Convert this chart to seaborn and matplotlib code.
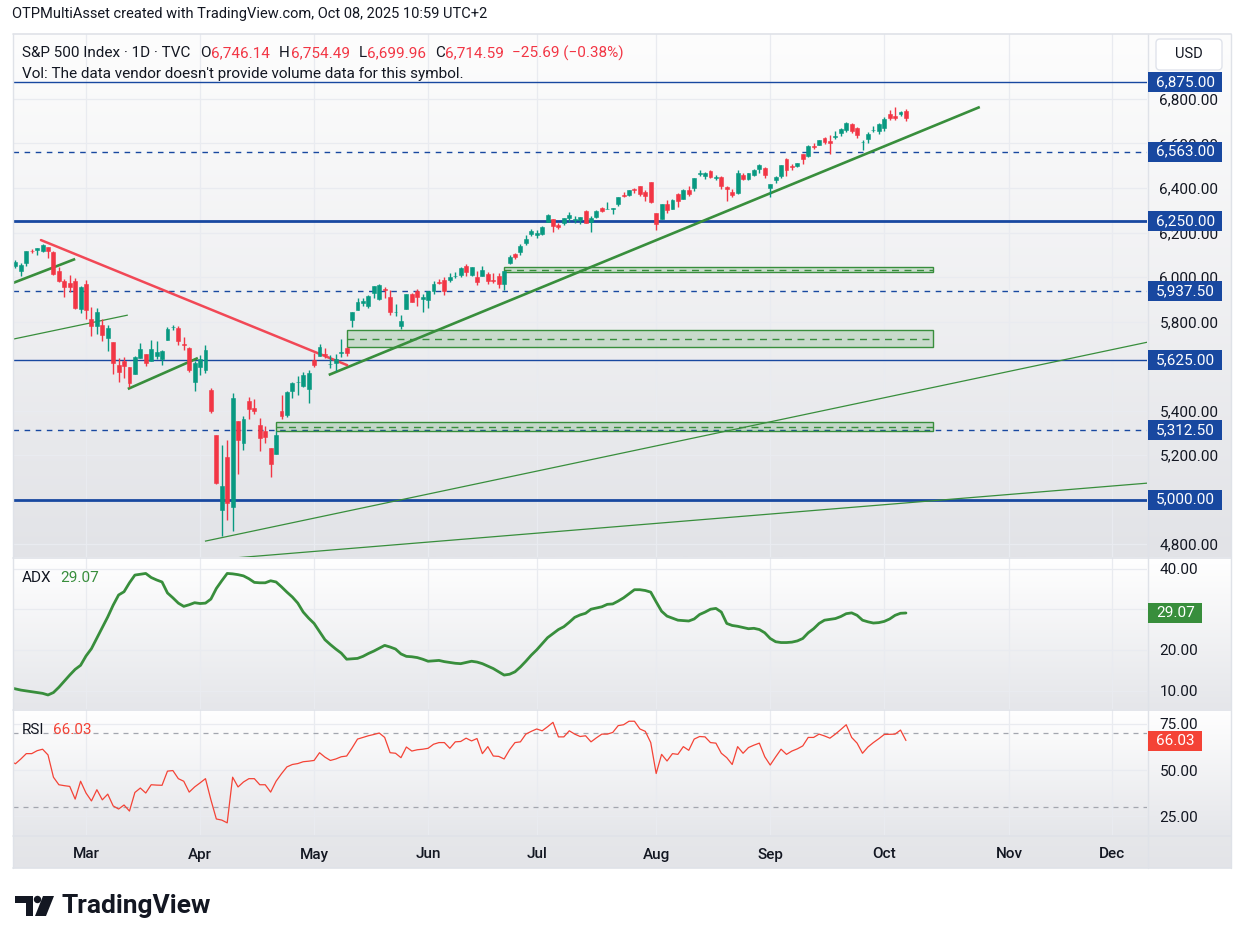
import numpy as np
import pandas as pd
import matplotlib
matplotlib.use('Agg')
import matplotlib.pyplot as plt
import matplotlib.patches as mpatches
from matplotlib.colors import LinearSegmentedColormap
from matplotlib.transforms import IdentityTransform
import seaborn as sns

sns.set_style('white')
plt.rcParams['font.family'] = ['Roboto', 'DejaVu Sans']

# ---------------- data ----------------
holidays = ['2025-02-17', '2025-04-18', '2025-05-26', '2025-06-19',
            '2025-07-04', '2025-09-01', '2025-11-27', '2025-12-25']

opens = [6046, 6049, 6025, 6061, 6116, 6121, 6118, 6134, 6114, 6027, 5983, 5971, 5981, 5857,
         5969, 5812, 5781, 5786, 5727, 5706, 5603, 5624, 5594, 5563, 5635, 5655, 5623, 5646, 5630,
         5719, 5776, 5772, 5701, 5679, 5527,
         5597, 5581, 5492, 5292, 4953, 5193, 4967, 5353, 5256, 5442, 5412, 5335, 5306, 5232, 5207,
         5396, 5381, 5489, 5529, 5509, 5499,
         5626, 5646, 5656, 5607, 5613, 5658, 5679, 5808, 5854, 5884, 5870, 5929, 5902, 5944, 5910,
         5841, 5781, 5855, 5925, 5939, 5903,
         5897, 5938, 5979, 5985, 5988, 6004, 6009, 6049, 6010, 6000, 6004, 6012, 5987, 6004, 5970,
         6061, 6105, 6112, 6151, 6194,
         6187, 6193, 6247, 6259, 6233, 6245, 6266, 6256, 6255, 6296, 6249, 6269, 6309, 6304, 6307,
         6326, 6368, 6370, 6397, 6409, 6381, 6428,
         6288, 6261, 6330, 6307, 6375, 6351, 6390, 6398, 6461, 6453, 6478, 6445, 6450, 6406, 6384,
         6378, 6458, 6441, 6457, 6485, 6491,
         6401, 6434, 6452, 6531, 6498, 6500, 6555, 6545, 6590, 6594, 6623, 6612, 6631, 6645, 6659,
         6689, 6670, 6605, 6620, 6660, 6656,
         6670, 6732, 6722, 6733, 6746]
highs = [6073, 6076, 6064, 6116, 6127, 6130, 6147, 6134, 6115, 6044, 5993, 6010, 5994, 5959,
         5987, 5866, 5860, 5812, 5783, 5706, 5636, 5642, 5597, 5645, 5703, 5655, 5716, 5711, 5670,
         5776, 5786, 5779, 5732, 5685, 5621,
         5651, 5695, 5500, 5292, 5247, 5268, 5481, 5353, 5374, 5460, 5450, 5367, 5329, 5232, 5310,
         5470, 5489, 5528, 5554, 5572, 5582,
         5659, 5700, 5683, 5648, 5655, 5721, 5684, 5845, 5906, 5906, 5920, 5959, 5969, 5953, 5940,
         5878, 5830, 5924, 5930, 5944, 5922,
         5937, 5982, 5991, 5999, 6016, 6021, 6043, 6059, 6046, 6027, 6050, 6023, 6018, 6018, 6026,
         6101, 6109, 6147, 6187, 6215,
         6211, 6228, 6285, 6262, 6242, 6266, 6291, 6272, 6269, 6303, 6276, 6300, 6316, 6336, 6310,
         6360, 6381, 6390, 6401, 6410, 6390, 6428,
         6288, 6330, 6344, 6352, 6379, 6395, 6409, 6446, 6481, 6474, 6481, 6459, 6456, 6407, 6394,
         6482, 6466, 6467, 6486, 6509, 6493,
         6416, 6453, 6502, 6533, 6510, 6513, 6555, 6592, 6601, 6616, 6627, 6639, 6657, 6671, 6696,
         6692, 6676, 6616, 6650, 6679, 6693,
         6718, 6750, 6764, 6744, 6754]
lows = [6044, 6042, 6003, 6051, 6107, 6099, 6111, 6084, 6008, 5977, 5909, 5932, 5858, 5837,
        5810, 5733, 5742, 5711, 5666, 5565, 5529, 5546, 5505, 5563, 5635, 5598, 5622, 5633, 5604,
        5719, 5764, 5695, 5670, 5572, 5489,
        5558, 5571, 5391, 5069, 4835, 4910, 4857, 5115, 5221, 5360, 5386, 5220, 5255, 5101, 5207,
        5360, 5371, 5455, 5468, 5505, 5434,
        5597, 5646, 5635, 5590, 5578, 5641, 5644, 5776, 5854, 5869, 5861, 5908, 5895, 5908, 5830,
        5826, 5767, 5855, 5886, 5872, 5843,
        5862, 5922, 5967, 5921, 5979, 5994, 6000, 6003, 6006, 5963, 6004, 5969, 5971, 5952, 5943,
        6058, 6081, 6100, 6146, 6186,
        6177, 6189, 6247, 6201, 6217, 6235, 6247, 6245, 6237, 6242, 6203, 6267, 6292, 6304, 6282,
        6317, 6360, 6363, 6379, 6366, 6341, 6332,
        6212, 6261, 6289, 6305, 6315, 6349, 6364, 6385, 6452, 6441, 6443, 6437, 6397, 6343, 6361,
        6374, 6438, 6436, 6454, 6467, 6444,
        6361, 6424, 6446, 6452, 6483, 6493, 6508, 6539, 6577, 6592, 6596, 6551, 6620, 6635, 6651,
        6645, 6624, 6570, 6604, 6651, 6644,
        6656, 6705, 6706, 6723, 6700]
closes = [6066, 6069, 6052, 6115, 6115, 6130, 6144, 6118, 6013, 5983, 5955, 5956, 5862, 5955,
          5850, 5778, 5843, 5739, 5770, 5615, 5572, 5599, 5522, 5639, 5675, 5615, 5675, 5663, 5668,
          5768, 5777, 5712, 5693, 5581, 5612,
          5633, 5671, 5397, 5074, 5062, 4983, 5457, 5268, 5363, 5406, 5397, 5276, 5283, 5158, 5288,
          5376, 5485, 5525, 5529, 5561, 5569,
          5604, 5687, 5650, 5607, 5631, 5664, 5660, 5844, 5887, 5893, 5917, 5958, 5964, 5940, 5845,
          5842, 5803, 5922, 5889, 5912, 5912,
          5936, 5970, 5971, 5939, 6000, 6006, 6039, 6022, 6045, 5977, 6033, 5983, 5981, 5968, 6025,
          6092, 6092, 6141, 6173, 6205,
          6198, 6227, 6279, 6230, 6226, 6263, 6280, 6260, 6269, 6244, 6264, 6297, 6297, 6306, 6310,
          6359, 6363, 6389, 6390, 6371, 6363, 6339,
          6238, 6330, 6299, 6345, 6340, 6389, 6373, 6446, 6467, 6469, 6450, 6449, 6411, 6396, 6370,
          6467, 6439, 6466, 6481, 6502, 6460,
          6416, 6448, 6502, 6482, 6495, 6513, 6532, 6587, 6584, 6615, 6607, 6600, 6632, 6664, 6694,
          6657, 6638, 6605, 6644, 6661, 6688,
          6711, 6715, 6716, 6740, 6714.59]

adx = [10.7, 10.4, 10.1, 9.9, 9.7, 9.5, 9.3, 8.9, 9.5, 10.8, 12.3, 13.8, 15.2, 16.2, 18.5, 20.3,
       22.9, 25.5, 28.1, 31.0, 33.5, 34.3, 36.5, 38.4, 38.6, 38.8, 37.8, 37.2, 36.7, 34.0, 32.8,
       31.5, 30.7, 31.1, 31.6, 31.4, 31.5, 32.5, 35.1, 37.0, 38.8, 38.7, 38.5, 38.2, 37.5, 36.6,
       36.5, 36.5, 37.0, 36.7, 35.5, 34.2, 33.0, 31.5, 29.3, 27.8, 26.5, 24.5, 22.5, 21.3, 20.2,
       19.2, 17.7, 17.8, 17.9, 18.4, 19.1, 19.7, 20.4, 21.1, 20.7, 20.2, 19.0, 18.4, 18.3, 18.1,
       17.7, 17.2, 17.3, 17.4, 17.1, 16.9, 16.7, 16.6, 16.9, 17.2, 17.0, 16.6, 16.0, 15.4, 14.6,
       13.8, 14.0, 14.6, 15.8, 17.2, 18.7, 20.0, 21.5, 23.0, 24.0, 25.0, 25.7, 26.8, 28.0, 28.6,
       29.0, 30.0, 30.3, 30.6, 31.2, 31.3, 32.0, 32.8, 33.8, 34.8, 34.8, 34.6, 34.2, 31.8, 29.5,
       28.3, 27.8, 27.3, 27.2, 27.1, 27.6, 28.7, 29.3, 30.0, 30.2, 29.3, 26.5, 26.0, 25.8, 25.5,
       25.2, 25.3, 25.0, 24.2, 22.8, 22.0, 21.8, 21.8, 21.9, 22.2, 22.8, 24.2, 25.2, 26.5, 27.3,
       27.5, 27.7, 28.2, 28.9, 29.1, 28.5, 27.3, 26.9, 26.6, 26.7, 27.0, 27.6, 28.5, 29.0, 29.07]

rsi = [55.0, 53.4, 56.0, 58.9, 58.9, 60.5, 61.3, 58.2, 46.1, 42.0, 41.5, 41.1, 34.2, 43.9, 37.5,
       33.2, 39.3, 33.8, 36.9, 30.5, 28.8, 31.0, 27.7, 37.8, 40.2, 37.5, 42.0, 41.8, 41.7, 49.4,
       49.7, 45.3, 43.9, 38.0, 40.8, 43.0, 45.3, 33.8, 23.4, 22.8, 21.3, 46.1, 40.8, 43.5, 45.3,
       45.3, 42.0, 42.0, 38.0, 43.9, 48.0, 51.7, 53.0, 53.5, 54.5, 54.8, 55.2, 59.4, 57.0, 55.2,
       56.0, 57.2, 57.6, 62.0, 66.8, 67.7, 68.6, 69.3, 70.1, 67.7, 59.4, 59.1, 56.7, 62.5, 60.3,
       61.0, 61.3, 61.8, 64.0, 64.9, 64.9, 61.8, 65.3, 65.5, 67.3, 65.8, 67.1, 58.9, 62.7, 57.6,
       57.4, 56.0, 61.0, 64.9, 65.3, 69.5, 71.0, 72.3, 71.3, 73.5, 75.9, 68.0, 68.0, 71.3, 69.5,
       68.2, 68.6, 65.3, 67.5, 69.5, 69.5, 70.4, 74.1, 74.6, 76.5, 76.5, 72.3, 71.0, 64.9, 48.1,
       58.5, 54.9, 58.9, 58.5, 62.7, 60.7, 66.8, 68.2, 68.0, 64.9, 64.6, 59.1, 56.7, 53.0, 62.7,
       59.1, 62.2, 63.5, 64.6, 57.2, 52.7, 57.1, 61.3, 58.5, 60.3, 61.5, 63.1, 67.7, 67.7, 69.5,
       68.5, 67.3, 69.5, 72.0, 74.6, 67.7, 64.6, 59.1, 62.5, 64.9, 67.0, 69.3, 69.4, 69.5, 71.7,
       66.03]

levels = [6875, 6563, 6250, 5937.5, 5625, 5312.5, 5000]
level_styles = ['solid', 'dashed', 'solid', 'dashed', 'solid', 'dashed', 'solid']
level_widths = [1.0, 1.0, 2.0, 1.0, 1.0, 1.0, 2.0]

# support zones: start bar, end bar, low, high
zone_start = [91, 62, 49]
zone_end = [170, 170, 170]
zone_low = [6022, 5685, 5306]
zone_high = [6045, 5762, 5350]

# trend lines (bar index, price)
green_lines = [((58.7, 5560), (178.6, 6764), 1.9),
               ((0.0, 5968), (12.0, 6081), 1.9),
               ((0.0, 5718), (21.7, 5829), 0.9),
               ((21.7, 5497), (34.6, 5636), 1.9),
               ((35.9, 4813), (210.0, 5710), 0.9),
               ((40.0, 4735), (210.0, 5075), 0.9)]
red_line = ((5.7, 6166), (62.1, 5604))

price_ticks = [4800, 5000, 5200, 5400, 5600, 5800, 6000, 6200, 6400, 6600, 6800]
adx_ticks = [10, 20, 30, 40]
rsi_ticks = [25, 50, 75]
month_labels = ['Mar', 'Apr', 'May', 'Jun', 'Jul', 'Aug', 'Sep', 'Oct', 'Nov', 'Dec']

# ---------------- calendar ----------------
days = pd.bdate_range('2025-02-10', '2025-12-31')
days = days[~days.isin(pd.to_datetime(holidays))]
pos = pd.Series(np.arange(len(days)), index=days)
first_bars = pos.groupby(days.to_period('M')).min()
month_pos = list(first_bars.values[1:])

n = len(closes)
idx = np.arange(n)
df = pd.DataFrame({'bar': idx, 'open': opens, 'high': highs, 'low': lows,
                   'close': closes, 'adx': adx, 'rsi': rsi})

# ---------------- figure ----------------
W, H = 1243, 944
fig = plt.figure(figsize=(W / 100, H / 100), dpi=100)
fig.patch.set_facecolor('white')

DARK = '#131722'
UP = '#089981'
DOWN = '#f23645'
RSI_RED = '#f44336'
GREEN = '#388e3c'
BLUE = '#1848a0'
GRID = '#e9ebf0'
SEP = '#dfe2e8'


def rect(x0, y0, x1, y1):
    return [x0 / W, 1 - y1 / H, (x1 - x0) / W, (y1 - y0) / H]


def gradient_bg(y0, y1, top, bottom):
    bg = fig.add_axes(rect(13, y0, 1231, y1), zorder=0)
    cmap = LinearSegmentedColormap.from_list('g', [top, bottom])
    bg.imshow(np.linspace(0, 1, 256).reshape(-1, 1), cmap=cmap, aspect='auto',
              extent=[0, 1, 0, 1], origin='upper')
    bg.set_axis_off()
    return bg


gradient_bg(34, 557, '#fdfdfd', '#e2e3e7')
gradient_bg(558, 709, '#ffffff', '#e5e6ea')
gradient_bg(710, 835, '#ffffff', '#e5e6ea')
gradient_bg(835, 868, '#e6e7ea', '#e3e4e8')

X0, X1 = 13, 1147
xlim = ((X0 - 10) / 5.43, (X1 - 10) / 5.43)

ax = fig.add_axes(rect(X0, 34, X1, 557), zorder=1)
ax_adx = fig.add_axes(rect(X0, 558, X1, 709), zorder=1)
ax_rsi = fig.add_axes(rect(X0, 710, X1, 835), zorder=1)

for a in (ax, ax_adx, ax_rsi):
    a.set_facecolor('none')
    for s in a.spines.values():
        s.set_visible(False)
    a.set_xlim(*xlim)
    a.set_xticks(month_pos)
    a.yaxis.tick_right()
    a.tick_params(axis='y', length=0, pad=9, labelsize=11, labelcolor=DARK)
    a.tick_params(axis='x', length=0)
    a.grid(True, color=GRID, linewidth=0.9)
    a.set_axisbelow(True)


def tick_text(v, hidden, fmt):
    return '' if v in hidden else fmt.format(v)


ax.set_ylim(4742, 7092)
ax.set_yticks(price_ticks)
# 5,000 and 5,600 sit fully under the level boxes in the original
ax.set_yticklabels([tick_text(v, (5000, 5600), '{:,.2f}') for v in price_ticks])
ax.set_xticklabels([])

ax_adx.set_ylim(5.45, 42.6)
ax_adx.set_yticks(adx_ticks)
ax_adx.set_yticklabels([tick_text(v, (30,), '{:.2f}') for v in adx_ticks])
ax_adx.set_xticklabels([])

ax_rsi.set_ylim(14.7, 82.6)
ax_rsi.set_yticks(rsi_ticks)
ax_rsi.set_yticklabels([f'{v:.2f}' for v in rsi_ticks])
ax_rsi.set_xticklabels(month_labels)
ax_rsi.tick_params(axis='x', pad=9, labelsize=11, labelcolor=DARK)
for lab in ax_rsi.get_xticklabels():
    lab.set_fontweight('medium')

# ---------------- price panel ----------------
for lv, ls, lw in zip(levels, level_styles, level_widths):
    ax.axhline(lv, color=BLUE, linestyle=(0, (4, 4)) if ls == 'dashed' else '-',
               linewidth=lw, zorder=2)

for x0, x1, lo, hi in zip(zone_start, zone_end, zone_low, zone_high):
    ax.add_patch(mpatches.Rectangle((x0, lo), x1 - x0, hi - lo, facecolor=(0.22, 0.56, 0.24, 0.2),
                                    edgecolor=GREEN, linewidth=1.0, zorder=2))
    ax.hlines((lo + hi) / 2, x0, x1, colors=GREEN, linestyles=(0, (5, 4)), linewidth=1.0, zorder=2)

for (xa, ya), (xb, yb), lw in green_lines:
    ax.plot([xa, xb], [ya, yb], color=GREEN, linewidth=lw, zorder=3, solid_capstyle='butt')
ax.plot([red_line[0][0], red_line[1][0]], [red_line[0][1], red_line[1][1]],
        color=DOWN, linewidth=1.8, alpha=0.9, zorder=3)

colors = np.where(df['close'] >= df['open'], UP, DOWN)
ax.vlines(df['bar'], df['low'], df['high'], colors=colors, linewidth=1.0, zorder=4)
body = (df['close'] - df['open']).abs()
ax.bar(df['bar'], body.where(body > 0, 0.5), bottom=df[['open', 'close']].min(axis=1),
       width=0.72, color=colors, edgecolor=colors, linewidth=0.4, zorder=5)

# ---------------- indicator panels ----------------
sns.lineplot(data=df, x='bar', y='adx', ax=ax_adx, color=GREEN, linewidth=2.0, zorder=3)
ax_adx.set_xlabel('')
ax_adx.set_ylabel('')

sns.lineplot(data=df, x='bar', y='rsi', ax=ax_rsi, color=RSI_RED, linewidth=0.9, zorder=3)
for lv in (70, 30):
    ax_rsi.axhline(lv, color='#a3a6af', linestyle=(0, (4, 4)), linewidth=0.9, zorder=2)
ax_rsi.set_xlabel('')
ax_rsi.set_ylabel('')

# ---------------- pixel-level decorations ----------------
ID = IdentityTransform()


def ftext(x, y, s, **kw):
    return fig.text(x, H - y, s, transform=ID, **kw)


def value_box(a, val, text, color, width):
    ypix = a.transData.transform((0, val))[1]
    fig.add_artist(mpatches.Rectangle((1148, ypix - 10), width, 20, transform=ID,
                                      facecolor=color, edgecolor='none', zorder=19))
    fig.text(1156, ypix, text, transform=ID, ha='left', va='center', color='white',
             fontsize=11, zorder=20)


for lv in levels:
    value_box(ax, lv, f'{lv:,.2f}', BLUE, 74)
value_box(ax_adx, adx[-1], f'{adx[-1]:.2f}', GREEN, 54)
value_box(ax_rsi, rsi[-1], f'{rsi[-1]:.2f}', RSI_RED, 54)

# frame and separators
for yy in (34, 557.5, 709.5, 835.5, 868):
    fig.add_artist(plt.Line2D([13, 1231], [H - yy, H - yy], transform=ID, color=SEP, linewidth=1.2, zorder=15))
for xx in (13, 1147.5, 1231):
    fig.add_artist(plt.Line2D([xx, xx], [H - 34, H - 868], transform=ID, color=SEP, linewidth=1.0, zorder=15))

# USD box
fig.add_artist(mpatches.FancyBboxPatch((1156, H - 70), 66, 31, boxstyle='round,pad=0,rounding_size=4',
                                       transform=ID, facecolor='white', edgecolor='#e0e3eb', linewidth=1, zorder=16))
ftext(1189, 54, 'USD', ha='center', va='center', fontsize=10.5, color=DARK, zorder=17)

# header
ftext(12, 14, 'OTPMultiAsset created with TradingView.com, Oct 08, 2025 10:59 UTC+2',
      ha='left', va='center', fontsize=10.5, color=DARK)

renderer = fig.canvas.get_renderer()


def text_row(x, y, pieces, size=11):
    for s, c, gap in pieces:
        t = ftext(x, y, s, ha='left', va='center', fontsize=size, color=c, zorder=18)
        x += t.get_window_extent(renderer).width + gap


text_row(22, 53, [('S&P 500 Index · 1D · TVC', DARK, 10),
                  ('O', DARK, 0.5), ('6,746.14', DOWN, 9),
                  ('H', DARK, 0.5), ('6,754.49', DOWN, 9),
                  ('L', DARK, 0.5), ('6,699.96', DOWN, 9),
                  ('C', DARK, 0.5), ('6,714.59', DOWN, 8),
                  ('\u221225.69 (\u22120.38%)', DOWN, 0)])
text_row(22, 74, [("Vol: The data vendor doesn't provide volume data for this symbol.", DARK, 0)])
text_row(22, 578, [('ADX', DARK, 9), (f'{adx[-1]:.2f}', GREEN, 0)])
text_row(22, 730, [('RSI', DARK, 8), (f'{rsi[-1]:.2f}', RSI_RED, 0)])

# TradingView logo
logo_col = '#131722'
fig.add_artist(mpatches.Polygon([(15, H - 896), (33, H - 896), (33, H - 916), (26, H - 916),
                                 (26, H - 903), (15, H - 903)], closed=True, transform=ID,
                                facecolor=logo_col, edgecolor='none', zorder=18))
fig.add_artist(mpatches.Circle((37.5, H - 899.5), 3.7, transform=ID, facecolor=logo_col,
                               edgecolor='none', zorder=18))
fig.add_artist(mpatches.Polygon([(43, H - 896), (54, H - 896), (46, H - 916), (35, H - 916)],
                                closed=True, transform=ID, facecolor=logo_col, edgecolor='none', zorder=18))
ftext(61, 906, 'TradingView', ha='left', va='center', fontsize=19, fontweight='bold', color=logo_col)

fig.savefig('out.png', dpi=100, facecolor='white')
